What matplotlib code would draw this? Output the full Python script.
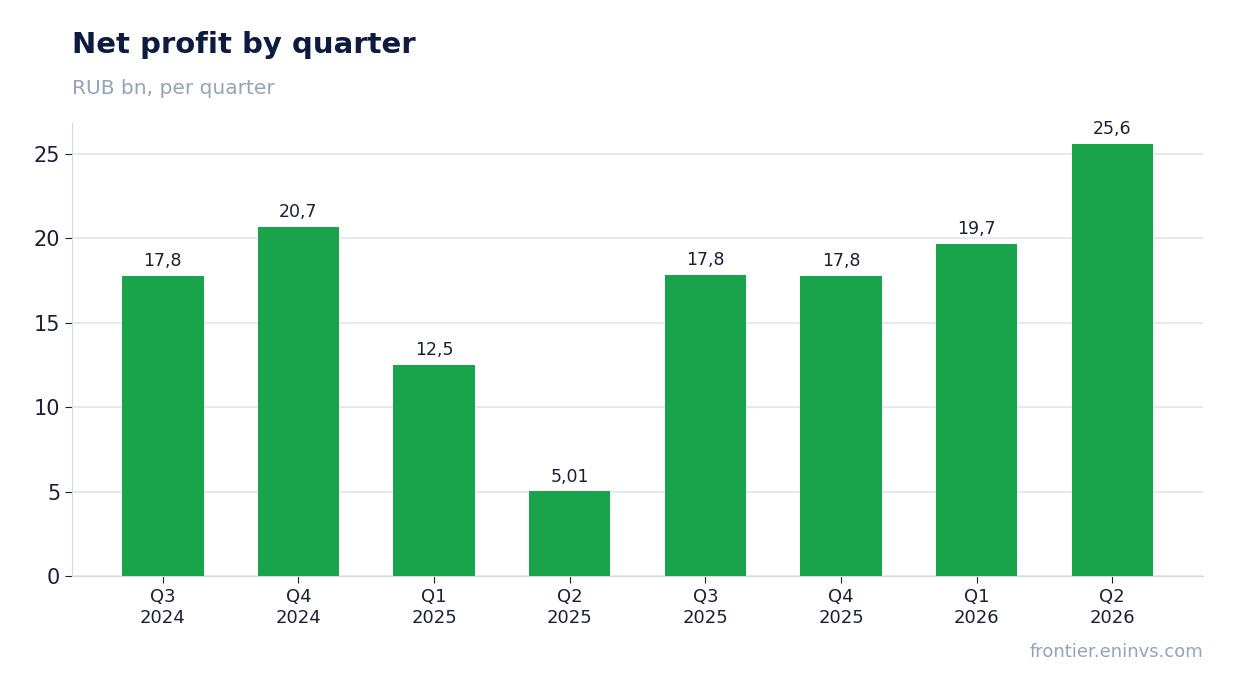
import matplotlib
matplotlib.use("Agg")
import matplotlib.pyplot as plt

quarters = ["Q3\n2024", "Q4\n2024", "Q1\n2025", "Q2\n2025", "Q3\n2025", "Q4\n2025", "Q1\n2026", "Q2\n2026"]
values = [17.8, 20.7, 12.5, 5.01, 17.84, 17.8, 19.7, 25.6]
labels = ["17,8", "20,7", "12,5", "5,01", "17,8", "17,8", "19,7", "25,6"]

fig = plt.figure(figsize=(12.34, 6.93), dpi=100)
ax = fig.add_axes([0.0583, 0.1688, 0.9167, 0.6537])
x = range(len(values))
bars = ax.bar(x, values, width=0.6, color="#19a34a", zorder=3)
for xi, v, l in zip(x, values, labels):
    ax.text(xi, v + 0.35, l, ha="center", va="bottom", fontsize=12.5, color="#1a1f36")
ax.set_xlim(-0.67, 7.67)
ax.set_ylim(0, 26.84)
ax.set_yticks([0, 5, 10, 15, 20, 25])
ax.set_xticks(list(x))
ax.set_xticklabels(quarters, fontsize=13, color="#1a1f36")
ax.tick_params(axis="y", labelsize=15, labelcolor="#1a1f36", color="#1a1f36", length=5)
ax.tick_params(axis="x", color="#1a1f36", length=5)
ax.grid(axis="y", color="#e2e6ee", linewidth=1.2, zorder=0)
for s in ["top", "right"]:
    ax.spines[s].set_visible(False)
for s in ["left", "bottom"]:
    ax.spines[s].set_color("#d5d9e2")
fig.text(0.0583, 0.935, "Net profit by quarter", fontsize=21, fontweight="bold", color="#0d1b40", va="center")
fig.text(0.0583, 0.873, "RUB bn, per quarter", fontsize=14.5, color="#94a3b8", va="center")
fig.text(0.975, 0.059, "frontier.eninvs.com", fontsize=13, color="#94a3b8", ha="right", va="center")
fig.savefig("out.png", dpi=100)
